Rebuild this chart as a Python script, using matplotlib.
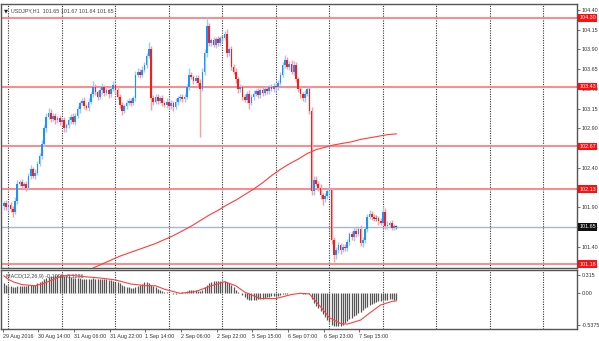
import numpy as np
import matplotlib
matplotlib.use('Agg')
import matplotlib.pyplot as plt

plt.rcParams['font.family'] = ['Liberation Sans', 'DejaVu Sans']

# USDJPY H1 closes, one per bar
closes = [101.95,101.90,101.93,101.88,101.84,101.98,102.20,102.22,102.17,102.19,
          102.15,102.30,102.38,102.30,102.34,102.45,102.55,102.70,102.90,103.05,
          103.10,103.02,103.06,103.00,103.03,102.98,103.00,102.90,102.94,103.00,
          103.05,102.98,103.06,103.14,103.22,103.25,103.18,103.16,103.24,103.33,
          103.42,103.36,103.30,103.38,103.42,103.35,103.38,103.33,103.40,103.45,
          103.38,103.30,103.20,103.12,103.18,103.22,103.25,103.22,103.28,103.58,
          103.62,103.58,103.64,103.70,103.82,103.90,103.28,103.24,103.30,103.25,
          103.28,103.22,103.20,103.24,103.18,103.22,103.17,103.24,103.28,103.30,
          103.27,103.30,103.42,103.58,103.55,103.50,103.54,103.48,103.40,103.62,
          103.85,104.20,103.98,104.02,103.96,104.03,103.98,104.04,104.05,104.10,
          103.85,103.90,103.68,103.62,103.52,103.40,103.42,103.30,103.26,103.34,
          103.22,103.30,103.34,103.37,103.32,103.38,103.35,103.40,103.37,103.42,
          103.40,103.44,103.42,103.48,103.58,103.70,103.77,103.68,103.72,103.62,
          103.70,103.52,103.40,103.33,103.28,103.34,103.40,103.12,102.10,102.25,
          102.20,102.15,102.05,102.00,102.04,102.10,102.12,101.48,101.30,101.36,
          101.42,101.36,101.40,101.38,101.46,101.56,101.52,101.60,101.56,101.62,
          101.45,101.48,101.62,101.78,101.82,101.78,101.75,101.76,101.72,101.70,
          101.84,101.66,101.68,101.70,101.64,101.66,101.65]
first_open = 101.92

# wick lengths in pips
wick_up = [3,4,3,4,3,5,4,3,4,3, 4,3,5,3,4,3,4,5,4,5, 6,4,3,4,3,4,3,4,3,4,
           3,5,3,4,3,4,5,3,4,3, 8,4,3,4,5,3,4,3,4,5, 3,4,3,4,3,4,3,4,3,5,
           4,3,5,4,4,9,5,4,3,4, 3,4,3,4,3,4,3,4,3,4, 3,4,4,8,4,3,4,3,4,5,
           5,11,4,3,4,3,4,3,3,4, 6,3,4,3,4,3,4,3,4,3, 4,3,4,3,4,3,4,3,4,3,
           4,3,4,3,4,4,6,4,3,4, 5,4,3,4,3,4,3,4,5,4, 4,3,4,3,4,3,4,3,4,3,
           4,3,4,3,4,3,4,5,4,3, 5,4,3,4,4,3,3,4,3,4, 8,5,4,3,4,3,2]
wick_dn = [5,4,5,4,6,3,4,3,4,3, 4,3,4,3,4,3,3,4,3,4, 3,4,3,4,3,4,3,4,4,3,
           4,3,4,3,4,3,4,3,4,3, 3,4,4,3,4,4,3,4,3,3, 4,3,4,5,3,4,3,4,3,3,
           3,4,3,3,4,3,15,4,3,4, 3,4,3,4,4,3,5,3,4,3, 4,3,3,4,3,4,3,4,61,3,
           4,4,3,4,3,4,3,4,3,3, 4,3,4,3,4,5,4,4,3,4, 7,3,4,3,4,3,4,3,4,3,
           3,4,3,4,3,3,4,3,4,3, 4,3,4,5,3,4,3,4,5,4, 3,4,5,7,3,4,3,4,9,5,
           4,5,3,4,3,4,3,5,4,3, 4,5,3,4,3,4,3,3,4,3, 3,4,3,4,3,3,2]

# moving average, every 4 bars
ma_bars = list(range(40, 177, 4))
ma_vals = [101.13,101.18,101.23,101.28,101.32,101.36,101.40,101.44,101.49,101.54,
           101.60,101.66,101.73,101.80,101.86,101.93,101.99,102.06,102.13,102.21,
           102.30,102.38,102.45,102.51,102.58,102.63,102.66,102.69,102.71,102.73,
           102.76,102.78,102.80,102.82,102.83]

macd_hist = [0.17,0.15,0.13,0.12,0.11,0.11,0.12,0.12,0.12,0.13,
             0.13,0.14,0.14,0.14,0.15,0.18,0.20,0.22,0.24,0.26,
             0.28,0.29,0.30,0.31,0.31,0.32,0.31,0.30,0.30,0.29,
             0.28,0.27,0.26,0.26,0.26,0.25,0.25,0.25,0.25,0.25,
             0.26,0.25,0.24,0.24,0.24,0.24,0.24,0.23,0.23,0.21,
             0.20,0.19,0.17,0.15,0.13,0.11,0.10,0.09,0.09,0.10,
             0.12,0.14,0.16,0.19,0.20,0.18,0.14,0.12,0.10,0.08,
             0.06,0.04,0.03,0.02,0.01,0.00,-0.01,-0.01,0.00,0.00,
             0.02,0.03,0.04,0.05,0.05,0.05,0.05,0.04,0.04,0.06,
             0.10,0.15,0.18,0.20,0.21,0.22,0.22,0.22,0.21,0.21,
             0.19,0.17,0.14,0.10,0.06,0.03,0.00,-0.03,-0.06,-0.09,
             -0.11,-0.12,-0.12,-0.11,-0.10,-0.10,-0.09,-0.08,-0.07,-0.06,
             -0.05,-0.05,-0.04,-0.04,-0.03,-0.02,-0.01,-0.01,0.00,0.01,
             0.01,0.00,0.00,0.00,-0.01,-0.01,0.00,-0.02,-0.10,-0.16,
             -0.21,-0.26,-0.30,-0.36,-0.41,-0.46,-0.50,-0.54,-0.56,-0.57,
             -0.57,-0.56,-0.54,-0.51,-0.48,-0.45,-0.42,-0.39,-0.37,-0.34,
             -0.32,-0.29,-0.26,-0.23,-0.20,-0.18,-0.16,-0.15,-0.14,-0.13,
             -0.12,-0.11,-0.11,-0.10,-0.10,-0.11,-0.11]
sig_bars = [0,2,4,8,14,18,21,26,30,35,44,50,57,64,68,72,79,86,93,99,104,108,
            115,122,129,133,137,142,146,151,154,160,164,169,174,176]
sig_vals = [0.30,0.24,0.20,0.15,0.13,0.17,0.22,0.30,0.31,0.29,0.26,0.23,0.16,
            0.13,0.13,0.07,0.00,0.03,0.13,0.20,0.13,0.02,-0.09,-0.09,-0.02,
            0.00,-0.01,-0.23,-0.42,-0.52,-0.53,-0.46,-0.34,-0.20,-0.14,-0.13]

red_levels = [104.30, 103.43, 102.67, 102.13, 101.18]
bid = 101.65
price_ticks = [101.15,101.40,101.65,101.90,102.15,102.40,102.65,102.90,
               103.15,103.40,103.65,103.90,104.15,104.40]
time_labels = ["29 Aug 2016","30 Aug 14:00","31 Aug 06:00","31 Aug 22:00",
               "1 Sep 14:00","2 Sep 06:00","2 Sep 22:00","5 Sep 15:00",
               "6 Sep 07:00","6 Sep 23:00","7 Sep 15:00"]

W, H = 599, 341
fs = 3.9
fig = plt.figure(figsize=(W/100, H/100), dpi=100)
ax = fig.add_axes([1/W, 1-268/H, 576/W, 264/H])
ax2 = fig.add_axes([1/W, 1-329/H, 576/W, 59/H])

n = len(closes)
x = np.arange(n)
c = np.array(closes)
o = np.r_[first_open, c[:-1]]
top = np.maximum(o, c)
bot = np.minimum(o, c)
hi = top + np.array(wick_up)/100
lo = bot - np.array(wick_dn)/100
up = c > o
flat = np.abs(c - o) < 0.015

body_col = np.where(up, '#1e90ff', '#ff1a1a').astype(object)
wick_col = np.where(up, '#9ccbff', '#ff9c9c').astype(object)
body_col[flat] = '#555555'
wick_col[flat] = '#999999'

ax.vlines(x, lo, hi, colors=list(wick_col), lw=1.0, zorder=3)
ax.bar(x, np.maximum(top - bot, 0.012), bottom=bot, width=0.75,
       color=list(body_col), lw=0, zorder=4)

ax.plot(ma_bars, ma_vals, color='#ff3b3b', lw=0.8, zorder=5)

for lv in red_levels:
    ax.axhline(lv, color='#ff8080', lw=1.3, zorder=2)
ax.axhline(bid, color='#a8b8cc', lw=1.0, zorder=2)

xlim = (-2.5/2.235 - 0.2, 574.5/2.235)
grid_bars = np.arange(2, 260, 24)
for a in (ax, ax2):
    for g in grid_bars:
        a.axvline(g, color='#333333', lw=0.8, ls=(0, (1, 1.2)), zorder=1)
    a.set_xlim(*xlim)
    for s in a.spines.values():
        s.set_color('#555555')
        s.set_linewidth(1.0)

ax.set_ylim(101.130, 104.476)
ax.yaxis.tick_right()
ax.set_yticks(price_ticks)
ax.set_yticklabels([f"{t:.2f}" for t in price_ticks])
ax.tick_params(axis='y', length=2, width=0.6, labelsize=fs, pad=1.5,
               colors='#555555', labelcolor='#333333')
ax.set_xticks([])

for lv in red_levels:
    ax.text(1.004, lv, f"{lv:.2f}", transform=ax.get_yaxis_transform(),
            fontsize=fs, color='white', va='center', ha='left', zorder=10,
            bbox=dict(boxstyle='square,pad=0.25', fc='#ff1010', ec='none'),
            clip_on=False)
ax.text(1.004, bid, f"{bid:.2f}", transform=ax.get_yaxis_transform(),
        fontsize=fs, color='white', va='center', ha='left', zorder=10,
        bbox=dict(boxstyle='square,pad=0.25', fc='#111111', ec='none'),
        clip_on=False)

ax.text(0.006, 0.985, "\u25bc", transform=ax.transAxes, fontsize=3.8,
        va='top', ha='left', color='#222222', family='DejaVu Sans')
ax.text(0.018, 0.985, "USDJPY,H1  101.65 101.67 101.64 101.65",
        transform=ax.transAxes, fontsize=fs, va='top', ha='left',
        color='#444444')

# MACD panel
ax2.vlines(x, 0, macd_hist, colors='#555555', lw=0.9, zorder=3)
ax2.plot(sig_bars, sig_vals, color='#ff4040', lw=0.8, zorder=4)
ax2.set_ylim(-0.614, 0.401)
ax2.yaxis.tick_right()
ax2.set_yticks([0.315, 0.0, -0.5375])
ax2.set_yticklabels(["0.315", "0.00", "-0.5375"])
ax2.tick_params(axis='y', length=2, width=0.6, labelsize=fs, pad=1.5,
                colors='#555555', labelcolor='#333333')
ax2.text(0.008, 0.93, "MACD(12,26,9) -0.1096 -0.1286", transform=ax2.transAxes,
         fontsize=fs, va='top', ha='left', color='#444444', zorder=2)

lab_bars = np.arange(len(time_labels)) * 16 - 0.6
ax2.set_xticks(lab_bars)
ax2.set_xticklabels(time_labels)
ax2.tick_params(axis='x', length=2, width=0.6, labelsize=fs, pad=1.5,
                colors='#555555', labelcolor='#333333')
for lab in ax2.get_xticklabels():
    lab.set_ha('left')

fig.savefig('out.png', dpi=100)
